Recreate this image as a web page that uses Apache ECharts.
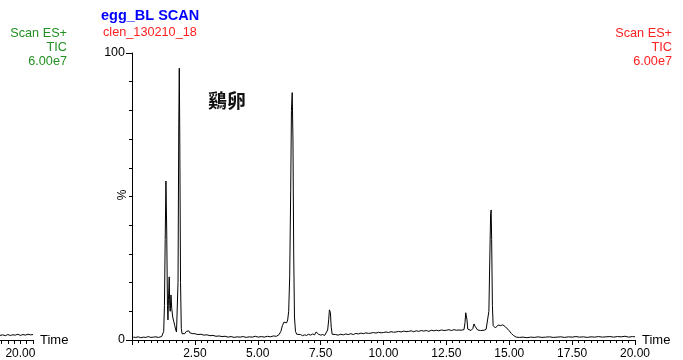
<!DOCTYPE html>
<html><head><meta charset="utf-8">
<script src="https://cdn.jsdelivr.net/npm/echarts@6/dist/echarts.min.js"></script>
<style>html,body{margin:0;padding:0;background:#fff}#c{width:683px;height:360px}</style>
</head><body><div id="c"></div>
<script>
// Main chromatogram (retention time, min) and relative intensity (%)
var times = [0.05,0.15,0.25,0.35,0.45,0.55,0.65,0.75,0.85,0.95,1.05,1.12,1.18,1.22,1.26,1.29,1.32,1.35,1.38,1.41,1.43,1.45,1.48,1.50,1.52,1.55,1.58,1.62,1.66,1.70,1.74,1.77,1.80,1.83,1.86,1.88,1.90,1.93,1.96,1.99,2.04,2.10,2.16,2.20,2.26,2.30,2.36,2.42,
  2.50,2.62,2.74,2.86,2.98,3.10,3.22,3.34,3.46,3.58,3.70,3.82,3.94,4.06,4.18,4.30,4.42,4.54,4.66,4.78,4.90,5.02,5.14,5.26,5.38,5.50,5.62,5.74,5.84,5.92,5.98,6.04,6.10,6.15,6.19,6.23,6.27,6.31,6.34,6.37,6.40,6.43,6.46,6.50,6.55,6.62,6.70,6.78,6.86,6.94,7.02,7.10,7.18,7.26,7.32,7.36,7.42,7.50,7.58,7.66,7.73,7.78,7.82,7.85,7.87,7.89,7.92,7.96,
  8.02,8.10,8.20,8.30,8.40,8.50,8.60,8.70,8.80,8.90,9.00,9.10,9.20,9.30,9.40,9.50,9.60,9.70,9.80,9.90,10.00,10.10,10.20,10.30,10.40,10.50,10.60,10.70,10.80,10.90,11.00,11.10,11.20,11.30,11.40,11.50,11.60,11.70,11.80,11.90,12.00,12.10,12.20,12.30,12.40,12.50,12.60,12.70,12.80,12.90,13.00,13.08,13.15,13.20,13.24,13.27,13.29,13.32,13.35,13.40,13.48,13.55,13.60,13.64,13.69,13.74,13.80,13.86,13.92,14.00,14.08,14.14,14.19,14.23,14.26,14.28,14.30,14.33,14.36,14.40,14.45,14.50,14.56,14.62,14.66,14.70,14.74,14.79,14.85,14.92,15.00,15.08,15.18,15.28,
  15.40,15.55,15.70,15.85,16.00,16.15,16.30,16.45,16.60,16.75,16.90,17.05,17.20,17.35,17.50,17.65,17.80,17.95,18.10,18.25,18.40,18.55,18.70,18.85,19.00,19.15,19.30,19.45,19.60,19.75,19.90,20.00];
var intensity = [1.0,0.9,1.1,0.8,1.0,0.9,1.2,0.9,1.0,1.1,0.9,1.0,1.2,1.3,3,12,35,55.4,38,12,7,14,22,12,10,15.7,11,8,6.5,5,3.5,2.8,3.2,20,75,94.7,70,20,4,2.2,2.5,2.2,3.0,2.4,3.2,2.5,2.7,2.2,
  2.2,1.9,2.0,1.7,1.8,1.5,1.6,1.3,1.4,1.2,1.3,1.0,1.2,0.9,1.1,1.0,1.2,0.9,1.1,1.0,1.3,1.0,1.2,1.0,1.3,1.1,1.4,1.3,1.8,3.0,5.0,6.2,6.4,6.0,7.0,10,22,52,80,86.2,70,30,8,3,2.0,1.6,1.9,1.5,1.8,1.6,2.0,1.7,2.1,1.8,2.8,3.1,2.0,1.7,1.9,1.6,1.9,3.5,7,10.5,11,9.5,4.5,2.0,
  1.6,1.9,1.7,2.0,1.8,2.1,1.9,2.2,1.9,2.3,2.1,2.4,2.2,2.5,2.3,2.4,2.6,2.4,2.7,2.5,2.6,2.8,2.6,2.9,2.7,2.8,3.0,2.8,3.1,2.9,3.0,3.2,2.9,3.2,3.0,3.3,3.1,3.3,3.0,3.4,3.2,3.4,3.2,3.5,3.3,3.4,3.6,3.3,3.6,3.4,3.5,3.4,3.7,3.6,6,9.5,10.1,7,3.8,3.5,3.3,4.0,5.6,4.8,4.2,3.5,3.8,3.3,3.6,3.4,3.7,4.0,10,30,44,45.3,35,12,5,4.5,4.2,4.8,5.2,5.6,5.0,5.6,5.3,5.5,4.6,4.0,3.2,2.3,1.5,1.0,
  0.9,1.0,0.8,1.0,0.9,1.1,0.9,1.0,1.1,0.9,1.0,1.1,0.9,1.1,1.0,1.2,1.0,1.1,0.9,1.1,1.0,1.2,1.0,1.1,1.2,1.0,1.2,1.1,1.3,1.0,1.2,1.1];
// Cut-off fragment of the neighbouring trace at the left edge
var fragTimes = [19.19,19.30,19.40,19.50,19.60,19.70,19.80,19.90,20.00,20.10,20.20,20.30,20.40,20.50];
var fragIntensity = [1.6,1.8,1.5,1.9,1.6,1.8,1.7,2.0,1.6,1.9,1.7,2.0,1.8,1.9];
var xLabelValues = [2.5,5,7.5,10,12.5,15,17.5,20];
var fragTickValues = [19.25,19.5,19.75,20,20.25,20.5];
var fragLabelValues = [20];
var headerLines = ['Scan ES+','TIC','6.00e7'];

var FONT = '"Liberation Sans", Arial, sans-serif';
var chart = echarts.init(document.getElementById('c'));
function pairs(a,b){return a.map(function(t,i){return [t,b[i]];});}
var graphics = [
  {type:'text',left:101,top:8,style:{text:'egg_BL SCAN',fill:'#0000ff',font:'bold 14.5px '+FONT}},
  {type:'text',left:103,top:26,style:{text:'clen_130210_18',fill:'#ff2020',font:'12.7px '+FONT}},
  {type:'text',x:208,y:91,style:{text:'鷄卵',fill:'#111',font:'bold 19px "Noto Sans CJK TC", "Noto Sans CJK JP", sans-serif'}},
  {type:'text',x:123,y:195,rotation:Math.PI/2,style:{text:'%',fill:'#000',font:'12px '+FONT,align:'center',verticalAlign:'middle'}}
];
headerLines.forEach(function(s,i){
  graphics.push({type:'text',x:67,y:33+i*14,style:{text:s,fill:'#229022',font:'12.7px '+FONT,align:'right',verticalAlign:'middle'}});
  graphics.push({type:'text',x:672,y:33+i*14,style:{text:s,fill:'#ff2020',font:'12.7px '+FONT,align:'right',verticalAlign:'middle'}});
});
chart.setOption({
  animation:false,
  backgroundColor:'#fff',
  grid:[
    {left:132,top:53,width:503,height:287},
    {left:0,top:53,width:33,height:287}
  ],
  xAxis:[
    {type:'value',gridIndex:0,min:0,max:20,interval:2.5,
     axisLine:{show:true,lineStyle:{color:'#000',width:1}},
     axisTick:{show:true,length:5,lineStyle:{color:'#000'}},
     minorTick:{show:true,splitNumber:10,length:3,lineStyle:{color:'#000'}},
     splitLine:{show:false},
     axisLabel:{customValues:xLabelValues,color:'#000',fontSize:12,fontFamily:FONT,margin:8,
       formatter:function(v){return v.toFixed(2);}},
     name:'Time',nameLocation:'end',nameGap:7,
     nameTextStyle:{color:'#000',fontSize:13,fontFamily:FONT,padding:[3,0,0,0]}},
    {type:'value',gridIndex:1,min:19.19,max:20.5,
     axisLine:{show:true,lineStyle:{color:'#000',width:1}},
     axisTick:{show:true,customValues:fragTickValues,length:4,lineStyle:{color:'#000'}},
     splitLine:{show:false},
     axisLabel:{customValues:fragLabelValues,color:'#000',fontSize:12,fontFamily:FONT,margin:8,
       formatter:function(v){return v.toFixed(2);}},
     name:'Time',nameLocation:'end',nameGap:7,
     nameTextStyle:{color:'#000',fontSize:13,fontFamily:FONT,padding:[3,0,0,0]}}
  ],
  yAxis:[
    {type:'value',gridIndex:0,min:0,max:100,interval:100,
     axisLine:{show:true,lineStyle:{color:'#000',width:1}},
     axisTick:{show:true,length:6,lineStyle:{color:'#000'}},
     minorTick:{show:true,splitNumber:10,length:3,lineStyle:{color:'#000'}},
     splitLine:{show:false},
     axisLabel:{color:'#000',fontSize:12.5,fontFamily:FONT,margin:7}},
    {type:'value',gridIndex:1,min:0,max:100,show:false}
  ],
  graphic:graphics,
  series:[
    {type:'line',xAxisIndex:0,yAxisIndex:0,data:pairs(times,intensity),showSymbol:false,symbol:'none',
     lineStyle:{color:'#000',width:1},silent:true},
    {type:'line',xAxisIndex:1,yAxisIndex:1,data:pairs(fragTimes,fragIntensity),showSymbol:false,symbol:'none',
     lineStyle:{color:'#000',width:1},silent:true}
  ]
});
</script></body></html>
